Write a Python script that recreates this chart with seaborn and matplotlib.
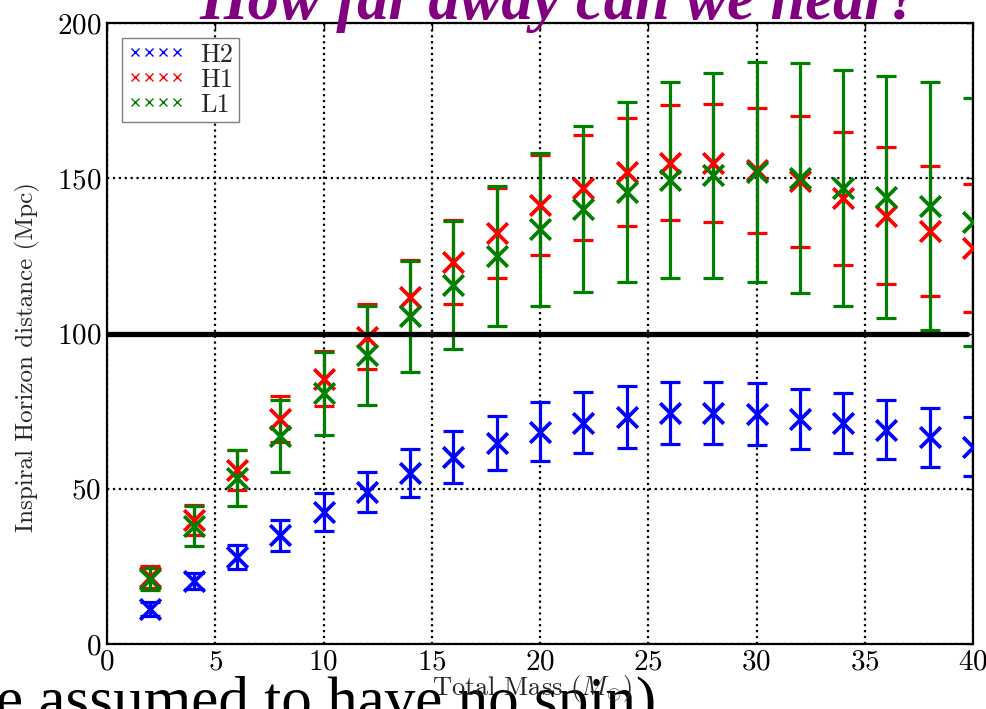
import matplotlib
matplotlib.use("Agg")
import matplotlib.pyplot as plt
from matplotlib.lines import Line2D
import seaborn as sns
import pandas as pd

# ---- data ----
mass = [2, 4, 6, 8, 10, 12, 14, 16, 18, 20, 22, 24, 26, 28, 30, 32, 34, 36, 38, 40]
h2 = [11.2, 20.3, 28, 35, 42.5, 49, 55, 60.2, 64.7, 68.3, 71.2, 73.1, 74.4, 74.4, 74, 72.5, 71.2, 69, 66.6, 63.5]
h2_err = [2.2, 2.7, 4, 5, 6, 6.5, 7.7, 8.4, 8.8, 9.5, 9.8, 10, 10, 10, 10, 9.7, 9.7, 9.5, 9.5, 9.5]
h1 = [21.5, 40, 56, 72.5, 85.5, 99, 111.7, 123, 132.5, 141.4, 147, 152, 155, 155, 152.5, 149, 143.5, 138, 133, 127.5]
h1_err = [3.5, 4.8, 6.5, 7.5, 9, 10.5, 12, 13.5, 14.5, 16, 17, 17.5, 18.5, 19, 20, 21, 21.5, 22, 21, 20.5]
l1 = [21, 38, 53.5, 67, 80.7, 93, 105.5, 115.6, 125, 133.5, 140, 145.5, 149.5, 151, 152, 150, 147, 144, 141, 136]
l1_err = [3.5, 6.5, 9, 11.5, 13.5, 16, 18, 20.5, 22.5, 24.5, 26.7, 29, 31.5, 33, 35.5, 37, 38, 39, 40, 40]
detectors = ["H2", "H1", "L1"]
colors = ["#0000ff", "#ff0000", "#008000"]
ref_distance = 100
x_ticks = [0, 5, 10, 15, 20, 25, 30, 35, 40]
y_ticks = [0, 50, 100, 150, 200]
title_text = "How far away can we hear?"
footer_text = "e assumed to have no spin)"

sns.set_style("white")
plt.rcParams["font.family"] = ["cmr10", "DejaVu Serif"]
plt.rcParams["mathtext.fontset"] = "cm"
plt.rcParams["axes.formatter.use_mathtext"] = True

fig = plt.figure(figsize=(9.86, 7.09), dpi=100)
ax = fig.add_axes([107 / 986, 1 - 644 / 709, (973 - 107) / 986, (644 - 23) / 709])

series = [(h2, h2_err), (h1, h1_err), (l1, l1_err)]
for name, col, (vals, errs) in zip(detectors, colors, series):
    ax.errorbar(mass, vals, yerr=errs, fmt="none", ecolor=col,
                elinewidth=2.3, capsize=7, capthick=2.3, zorder=2)
    df = pd.DataFrame({"mass": mass, "dist": vals})
    sns.scatterplot(data=df, x="mass", y="dist", marker="x", s=220,
                    color=col, linewidth=2.7, ax=ax, zorder=3, legend=False)

ax.axhline(ref_distance, color="black", lw=3.8, zorder=4, xmax=0.993)

ax.set_xlim(0, 40)
ax.set_ylim(0, 200)
ax.set_xticks(x_ticks)
ax.set_yticks(y_ticks)
ax.grid(True, color="black", linestyle=":", linewidth=1.6)
ax.tick_params(direction="in", top=True, right=True, length=5, width=1,
               labelsize=21, pad=4, colors="black")
for sp in ax.spines.values():
    sp.set_linewidth(1.6)
    sp.set_color("black")

ax.set_xlabel(r"Total Mass ($M_{\odot}$)", fontsize=19)
ax.set_ylabel("Inspiral Horizon distance (Mpc)", fontsize=18)
ax.xaxis.set_label_coords((532 - 107) / 866, (644 - 673) / 621)
ax.yaxis.set_label_coords((40 - 107) / 866, (644 - 357) / 621)

handles = [Line2D([], [], marker="x", linestyle="none", color=c,
                  markersize=5.5, markeredgewidth=1.0) for c in colors]
leg = ax.legend(handles, detectors, loc="upper left", numpoints=4,
                fontsize=19, fancybox=False, framealpha=1, edgecolor="#808080",
                labelspacing=0.05, handletextpad=0.6, borderpad=0.2,
                handlelength=2.2, borderaxespad=0.55)
leg.get_frame().set_linewidth(1.0)

fig.text(0.568, 1 - 19 / 709, title_text, color="#800080", fontsize=45,
         fontweight="bold", fontstyle="italic", family="Liberation Serif",
         ha="center", va="baseline", zorder=10)
fig.text(-0.004, -0.014, footer_text, color="black", fontsize=44,
         family="Liberation Serif", ha="left", va="baseline", zorder=-1)

fig.savefig("out.png", dpi=100)
